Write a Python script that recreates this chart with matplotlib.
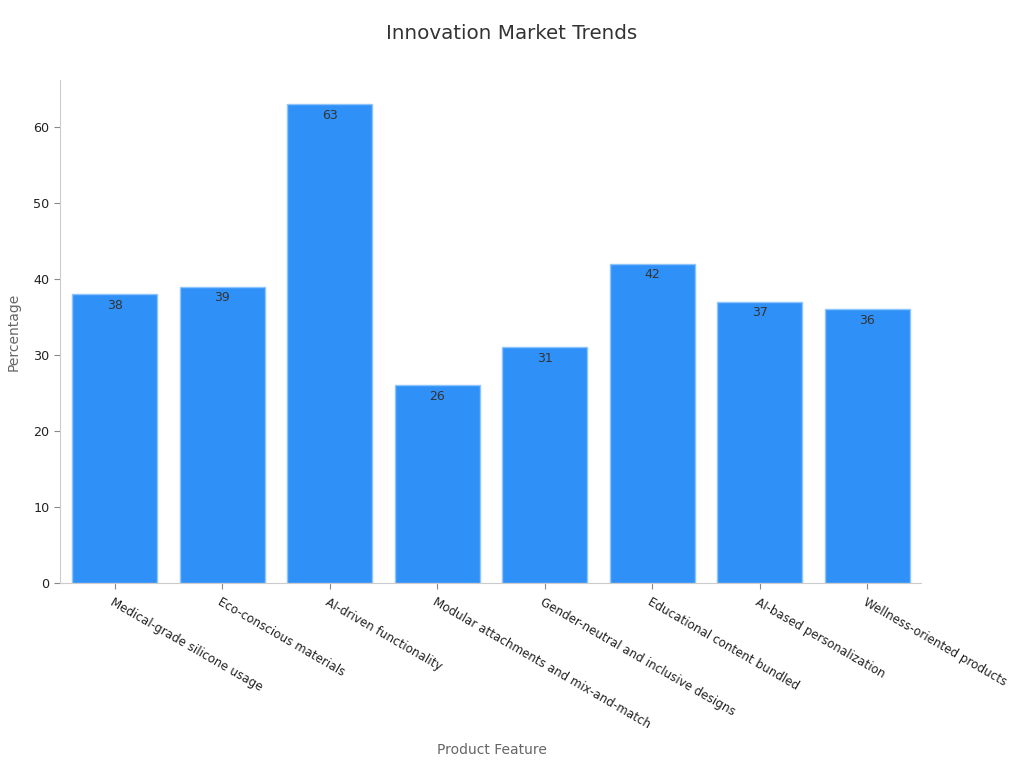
import matplotlib.pyplot as plt
import numpy as np

categories = [
    'Medical-grade silicone usage', 'Eco-conscious materials', 'AI-driven functionality',
    'Modular attachments and mix-and-match', 'Gender-neutral and inclusive designs',
    'Educational content bundled', 'AI-based personalization', 'Wellness-oriented products'
]
values = [38, 39, 63, 26, 31, 42, 37, 36]
yticks = [0, 10, 20, 30, 40, 50, 60]

fig = plt.figure(figsize=(10.24, 7.68), dpi=100)
ax = fig.add_axes([0.0586, 0.2409, 0.8408, 0.6549])

x = np.arange(len(categories))
ax.bar(x, values, width=0.79, color='#2f91f8', edgecolor='#8cc4fb', linewidth=1)

for xi, v in zip(x, values):
    ax.text(xi, v - 0.6, str(v), ha='center', va='top', fontsize=9, color='#333333')

ax.set_xlim(-0.51, 7.5)
ax.set_ylim(0, 66.2)
ax.set_yticks(yticks)
ax.set_xticks(x)
ax.set_xticklabels(categories, rotation=-30, ha='left', rotation_mode='anchor', fontsize=8.6, color='#222222')
ax.tick_params(axis='y', labelsize=9.2, labelcolor='#222222', color='#888888', length=4)
ax.tick_params(axis='x', color='#888888', length=4, pad=5)

for s in ['top', 'right']:
    ax.spines[s].set_visible(False)
for s in ['left', 'bottom']:
    ax.spines[s].set_color('#cccccc')

fig.text(0.5, 0.957, 'Innovation Market Trends', ha='center', va='center', fontsize=14.3, color='#333333')
fig.text(0.48, 0.023, 'Product Feature', ha='center', va='center', fontsize=10, color='#666666')
fig.text(0.013, 0.568, 'Percentage', ha='center', va='center', rotation=90, fontsize=10, color='#666666')

fig.savefig('out.png', dpi=100)
